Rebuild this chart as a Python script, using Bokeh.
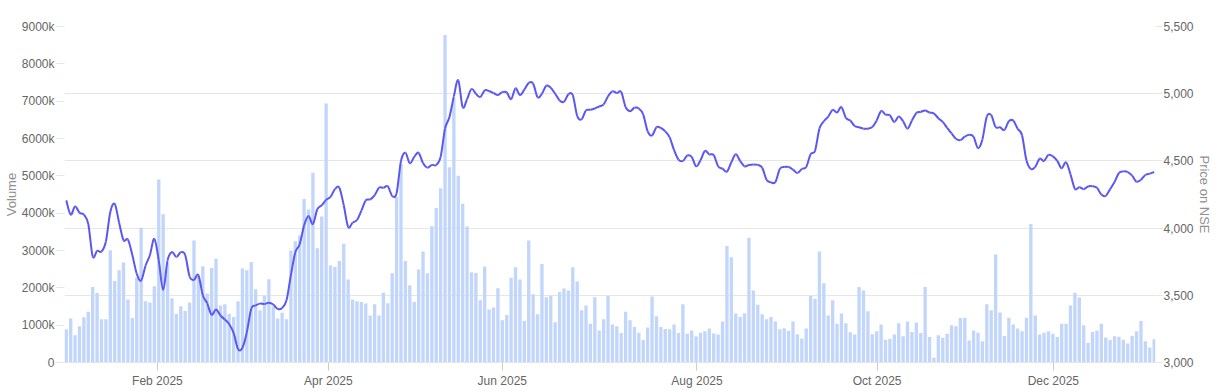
from bokeh.plotting import figure
from bokeh.models import (Range1d, LinearAxis, FixedTicker, PrintfTickFormatter,
                          NumeralTickFormatter, Grid, ColumnDataSource)
from bokeh.embed import file_html
from bokeh.resources import INLINE

# ---- data (one entry per NSE trading day, Jan 2025 -> Jan 2026) ----
volume_k = [
    890, 1180, 730, 970, 1210, 1360, 2020, 1860, 1160, 1160,
    3010, 2180, 2470, 2680, 1690, 1190, 2280, 3610, 1640, 1610,
    2040, 4900, 3970, 2680, 1720, 1300, 1510, 1380, 1610, 3270,
    2300, 2580, 1850, 2530, 2780, 1530, 1560, 1300, 1220, 1640,
    2520, 2470, 2690, 1960, 1400, 1790, 2230, 1500, 1180, 1330,
    1160, 3000, 3250, 3400, 4380, 4100, 5080, 3060, 3910, 6940,
    2600, 2560, 2720, 3180, 2220, 1690, 1640, 1620, 1580, 1260,
    1560, 1260, 1870, 1590, 2390, 4430, 5320, 2720, 2070, 1620,
    2490, 2970, 2390, 3650, 4140, 4670, 8770, 5230, 7080, 5000,
    4250, 3640, 2420, 2400, 1670, 2570, 1420, 1470, 1990, 1130,
    1270, 2270, 2550, 2220, 1110, 3270, 1830, 1290, 2640, 1750,
    1790, 1080, 1890, 1980, 1930, 2550, 2170, 1400, 1530, 1040,
    1750, 860, 1160, 1780, 1020, 970, 790, 1360, 1130, 950,
    800, 600, 940, 1770, 1240, 950, 900, 890, 1020, 790,
    1560, 770, 860, 700, 800, 840, 910, 780, 750, 1100,
    3120, 2820, 1310, 1220, 1310, 3340, 1930, 1550, 1290, 1160,
    1220, 1100, 890, 920, 850, 1100, 760, 640, 910, 1780,
    1700, 2970, 2120, 1260, 1670, 1040, 1310, 1050, 810, 750,
    2020, 1930, 1370, 760, 840, 1020, 610, 630, 750, 1050,
    700, 1100, 820, 1070, 790, 2020, 680, 130, 730, 660,
    770, 1000, 970, 1190, 1200, 590, 860, 800, 570, 1560,
    1400, 2890, 1340, 710, 1200, 1020, 910, 840, 1200, 3710,
    1260, 750, 800, 840, 770, 680, 1040, 1040, 1530, 1870,
    1740, 1000, 530, 820, 860, 1040, 670, 600, 700, 690,
    610, 510, 710, 840, 1110, 570, 400, 620,
]

price = [
    4206, 4100, 4160, 4115, 4100, 4030, 3790, 3830, 3825, 3900,
    4120, 4180, 4040, 3910, 3915, 3800, 3661, 3610, 3720, 3800,
    3920, 3760, 3540, 3760, 3822, 3785, 3820, 3800, 3640, 3615,
    3650, 3500, 3440, 3355, 3395, 3350, 3320, 3285, 3220, 3100,
    3110, 3225, 3400, 3425, 3438, 3435, 3445, 3432, 3398, 3405,
    3463, 3650, 3820, 3880, 4020, 4090, 4030, 4140, 4170, 4210,
    4232, 4290, 4300, 4170, 4009, 4040, 4060, 4130, 4207, 4214,
    4244, 4300, 4300, 4311, 4240, 4260, 4500, 4560, 4482, 4530,
    4560, 4484, 4450, 4470, 4470, 4530, 4740, 4826, 4980, 5100,
    4900, 4960, 5035, 5000, 4975, 5025, 5020, 5005, 4990, 5012,
    5010, 4960, 5040, 4990, 5030, 5080, 5075, 4975, 5000, 5060,
    5045, 5000, 4950, 4940, 4995, 4990, 4835, 4810, 4876, 4880,
    4890, 4905, 4920, 4980, 5017, 5005, 5012, 4900, 4870, 4895,
    4890, 4845, 4720, 4690, 4750, 4745, 4720, 4675, 4580, 4510,
    4500, 4540, 4530, 4460, 4505, 4575, 4549, 4543, 4460, 4442,
    4420, 4490, 4550, 4500, 4460, 4470, 4474, 4470, 4450, 4360,
    4340, 4343, 4440, 4455, 4455, 4435, 4410, 4440, 4455, 4550,
    4575, 4740, 4795, 4830, 4880, 4860, 4900, 4820, 4800, 4760,
    4750, 4740, 4740, 4752, 4801, 4870, 4845, 4839, 4790, 4830,
    4795, 4740, 4800, 4856, 4865, 4875, 4860, 4852, 4818, 4790,
    4745, 4705, 4665, 4655, 4680, 4695, 4680, 4595, 4660, 4830,
    4840, 4752, 4750, 4730, 4795, 4800, 4740, 4690, 4504, 4440,
    4455, 4517, 4500, 4545, 4534, 4500, 4445, 4490, 4400, 4292,
    4304, 4290, 4310, 4312, 4300, 4250, 4240, 4290, 4343, 4410,
    4422, 4417, 4390, 4345, 4360, 4395, 4405, 4417,
]

# month ticks (position in trading-day index) and their labels
tick_pos = [20.7, 59.5, 99.0, 143.2, 184.1, 224.1]
tick_labels = ["Feb 2025", "Apr 2025", "Jun 2025", "Aug 2025", "Oct 2025", "Dec 2025"]

volume_ticks = [0, 1000, 2000, 3000, 4000, 5000, 6000, 7000, 8000, 9000]
price_ticks = [3000, 3500, 4000, 4500, 5000, 5500]

day = list(range(len(volume_k)))
src = ColumnDataSource(dict(day=day, vol=volume_k, price=price))

# spline (Catmull-Rom as cubic Bezier segments) through the price points
n = len(price)
seg = dict(x0=[], y0=[], x1=[], y1=[], cx0=[], cy0=[], cx1=[], cy1=[])
for i in range(n - 1):
    a = max(i - 1, 0)
    d = min(i + 2, n - 1)
    seg["x0"].append(day[i]); seg["y0"].append(price[i])
    seg["x1"].append(day[i + 1]); seg["y1"].append(price[i + 1])
    seg["cx0"].append(day[i] + (day[i + 1] - day[a]) / 6.0)
    seg["cy0"].append(price[i] + (price[i + 1] - price[a]) / 6.0)
    seg["cx1"].append(day[i + 1] - (day[d] - day[i]) / 6.0)
    seg["cy1"].append(price[i + 1] - (price[d] - price[i]) / 6.0)
seg_src = ColumnDataSource(seg)

FONT = "Liberation Sans"
LABEL = "#666666"
TITLE = "#8f8f8f"
GRID = "#e6e6e6"

p = figure(frame_width=1091, frame_height=336,
           min_border_left=62, min_border_right=60,
           min_border_top=26, min_border_bottom=29,
           x_range=Range1d(-0.4, len(day) - 0.7),
           y_range=Range1d(0, 9000),
           output_backend="svg", toolbar_location=None,
           x_axis_location=None, y_axis_location=None)
p.outline_line_color = None
p.background_fill_color = "white"
p.border_fill_color = "white"
p.xgrid.visible = False
p.ygrid.visible = False

p.extra_y_ranges = {"price": Range1d(3000, 5500)}

# grid from the price axis
grid = Grid(dimension=1, ticker=FixedTicker(ticks=price_ticks), y_range_name="price",
            grid_line_color=GRID, grid_line_width=1)
p.add_layout(grid)

# volume bars
p.vbar(x="day", top="vol", bottom=0, width=0.76, source=src,
       fill_color="#c2d6fc", line_color=None)

# price line (smooth spline through the points)
p.bezier(x0="x0", y0="y0", x1="x1", y1="y1", cx0="cx0", cy0="cy0", cx1="cx1", cy1="cy1",
         source=seg_src, y_range_name="price",
         line_color="#5b57f2", line_width=2)

# x axis
xaxis = LinearAxis(ticker=FixedTicker(ticks=tick_pos),
                   major_label_overrides={t: l for t, l in zip(tick_pos, tick_labels)})
xaxis.axis_line_color = GRID
xaxis.major_tick_line_color = "#cccccc"
xaxis.major_tick_out = 8
xaxis.major_tick_in = 0
xaxis.minor_tick_line_color = None
xaxis.major_label_standoff = 3
xaxis.major_label_text_font = FONT
xaxis.major_label_text_font_size = "12px"
xaxis.major_label_text_color = LABEL
p.add_layout(xaxis, "below")

# left volume axis
laxis = LinearAxis(ticker=FixedTicker(ticks=volume_ticks),
                   formatter=PrintfTickFormatter(format="%dk"),
                   major_label_overrides={0: "0"})
laxis.axis_line_color = None
laxis.major_tick_line_color = GRID
laxis.major_tick_out = 8
laxis.major_tick_in = 0
laxis.minor_tick_line_color = None
laxis.major_label_standoff = 2
laxis.major_label_text_font = FONT
laxis.major_label_text_font_size = "12px"
laxis.major_label_text_color = LABEL
laxis.axis_label = "Volume"
laxis.axis_label_standoff = 0
laxis.axis_label_text_font = FONT
laxis.axis_label_text_font_size = "13px"
laxis.axis_label_text_font_style = "normal"
laxis.axis_label_text_color = TITLE
p.add_layout(laxis, "left")

# right price axis
raxis = LinearAxis(y_range_name="price", ticker=FixedTicker(ticks=price_ticks),
                   formatter=NumeralTickFormatter(format="0,0"))
raxis.axis_line_color = None
raxis.major_tick_line_color = GRID
raxis.major_tick_out = 7
raxis.major_tick_in = 0
raxis.minor_tick_line_color = None
raxis.major_label_standoff = 1
raxis.major_label_text_font = FONT
raxis.major_label_text_font_size = "12px"
raxis.major_label_text_color = LABEL
raxis.axis_label = "Price on NSE"
raxis.axis_label_standoff = 0
raxis.axis_label_text_font = FONT
raxis.axis_label_text_font_size = "13px"
raxis.axis_label_text_font_style = "normal"
raxis.axis_label_text_color = TITLE
p.add_layout(raxis, "right")

open("out.html", "w").write(file_html(p, INLINE))
